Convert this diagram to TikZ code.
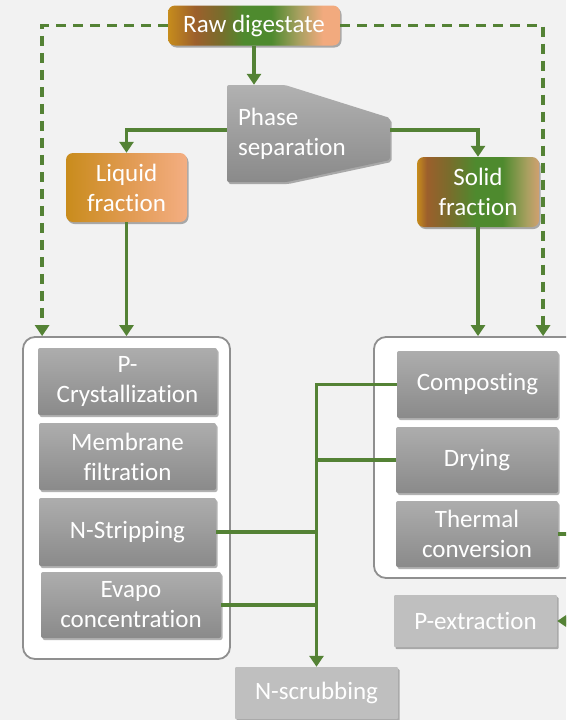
\documentclass[tikz,border=0pt]{standalone}
\usepackage{fontspec}
\setmainfont[RawFeature={-liga;-clig;-calt;-dlig}]{Carlito}
\usetikzlibrary{arrows.meta,shadows,calc}
\definecolor{bgc}{HTML}{F2F2F2}
\definecolor{gr}{HTML}{548235}
\definecolor{cgray}{HTML}{8F8F8F}
\definecolor{gA}{HTML}{ADADAD}
\definecolor{gB}{HTML}{8A8A8A}
\definecolor{flatg}{HTML}{BFBFBF}
\definecolor{cgold}{HTML}{C68C1C}
\definecolor{cbrown}{HTML}{9C5F2C}
\definecolor{colive}{HTML}{7A6C2C}
\definecolor{cgreen}{HTML}{4E8A2E}
\definecolor{ctan}{HTML}{A8A060}
\definecolor{cpeach}{HTML}{F2AA7E}
\definecolor{lgold}{HTML}{C98C1C}
\definecolor{lmid}{HTML}{E09A50}
\definecolor{lpeach}{HTML}{F4AE82}
\definecolor{stan}{HTML}{D0A070}
\pgfdeclarehorizontalshading{rawsh}{100bp}{color(0bp)=(cgold); color(25bp)=(cgold); color(33bp)=(cbrown); color(40bp)=(colive); color(47bp)=(cgreen); color(55bp)=(cgreen); color(63bp)=(ctan); color(70bp)=(cpeach); color(75bp)=(cpeach); color(100bp)=(cpeach)}
\pgfdeclarehorizontalshading{liqsh}{100bp}{color(0bp)=(lgold); color(25bp)=(lgold); color(50bp)=(lmid); color(75bp)=(lpeach); color(100bp)=(lpeach)}
\pgfdeclarehorizontalshading{solsh}{100bp}{color(0bp)=(cgold); color(25bp)=(cgold); color(29bp)=(cbrown); color(38bp)=(colive); color(49bp)=(cgreen); color(60bp)=(cgreen); color(70bp)=(ctan); color(75bp)=(stan); color(100bp)=(stan)}
\begin{document}
\begin{tikzpicture}[x=1pt,y=-1pt,
  base/.style={inner sep=0pt, text=white, font=\fontsize{25}{30}\selectfont, align=center},
  shad/.style={drop shadow={shadow xshift=1.5pt, shadow yshift=-2pt, opacity=0.3, fill=black}},
  proc/.style={base, rectangle, rounded corners=2pt, top color=gA, bottom color=gB, shad},
  flat/.style={base, rectangle, rounded corners=1pt, fill=flatg, shad},
  colorbox/.style={base, rectangle, rounded corners=7pt, shad},
  container/.style={draw=cgray, fill=white, line width=1.8pt, rounded corners=12pt, inner sep=0pt},
  flow/.style={draw=gr, line width=3.8pt, -{Triangle[width=14pt,length=11pt]}},
  plain/.style={draw=gr, line width=3.8pt},
  dflow/.style={flow, line width=3.3pt, dash pattern=on 10pt off 7pt}
]
\clip (0,0) rectangle (566,720);
\fill[bgc] (0,0) rectangle (566,720);

% containers
\node[container, minimum width=207pt, minimum height=322pt] (lb) at (126.5,498) {};
\node[container, minimum width=226pt, minimum height=241pt] (rb) at (487,457.5) {};

% top nodes
\node[colorbox, shading=rawsh, minimum width=172pt, minimum height=40pt] (raw) at (254,25.5) {Raw digestate};
\path[top color=gA!95, bottom color=gB, rounded corners=2pt, shad]
  (227,85) -- (285,85) -- (390,118) -- (390,160) -- (287,182) -- (227,182) -- cycle;
\node[base, align=left, text width=141pt, minimum width=163pt, minimum height=97pt] (phase) at (308.5,133.5) {Phase\\separation};
\node[colorbox, shading=liqsh, minimum width=121pt, minimum height=69pt, text width=115pt] (liq) at (126.5,187.5) {Liquid\\fraction};
\node[colorbox, shading=solsh, minimum width=122pt, minimum height=70pt, text width=116pt] (sol) at (478,192) {Solid\\fraction};

% left processes
\node[proc, minimum width=179pt, minimum height=67pt, text width=175pt] (pcry) at (127.5,381.5) {P-\\Crystallization};
\node[proc, minimum width=177pt, minimum height=67pt, text width=173pt] (memb) at (127.5,456.5) {Membrane\\filtration};
\node[proc, minimum width=177pt, minimum height=68pt, text width=173pt] (nstr) at (127.5,532) {N-Stripping};
\node[proc, minimum width=180pt, minimum height=66pt, text width=176pt] (evap) at (131,605) {Evapo\\concentration};

% right processes
\node[proc, minimum width=161pt, minimum height=67pt, text width=157pt] (comp) at (477.5,384.5) {Composting};
\node[proc, minimum width=162pt, minimum height=66pt, text width=158pt] (dry) at (477,460) {Drying};
\node[proc, minimum width=162pt, minimum height=66pt, text width=158pt] (therm) at (477,534) {Thermal\\conversion};

% outputs
\node[flat, minimum width=163pt, minimum height=52pt] (pext) at (475.5,621) {P-extraction};
\node[flat, minimum width=163pt, minimum height=52pt] (nscr) at (316.5,693) {N-scrubbing};

\coordinate (offr) at (585,534);

% connectors
\draw[flow] (raw.south) -- (raw.south |- phase.north);
\draw[flow] ([yshift=3.5pt]phase.west) -| (liq.north);
\draw[flow] ([yshift=3.5pt]phase.east) -| (sol.north);
\draw[flow] (liq.south) -- (liq.south |- lb.north);
\draw[flow] (sol.south) -- (sol.south |- rb.north);
\draw[dflow] (raw.west) -| ([xshift=20pt]lb.north west);
\draw[dflow] (raw.east) -| ([xshift=170pt]rb.north west);

\draw[flow] (comp.west) -| (nscr.north);
\draw[plain] (dry.west) -- (dry.west -| nscr.north);
\draw[plain] (nstr.east) -- (nstr.east -| nscr.north);
\draw[plain] (evap.east) -- (evap.east -| nscr.north);
\draw[flow] (therm.east) -- (offr) |- (pext.east);
\end{tikzpicture}
\end{document}
